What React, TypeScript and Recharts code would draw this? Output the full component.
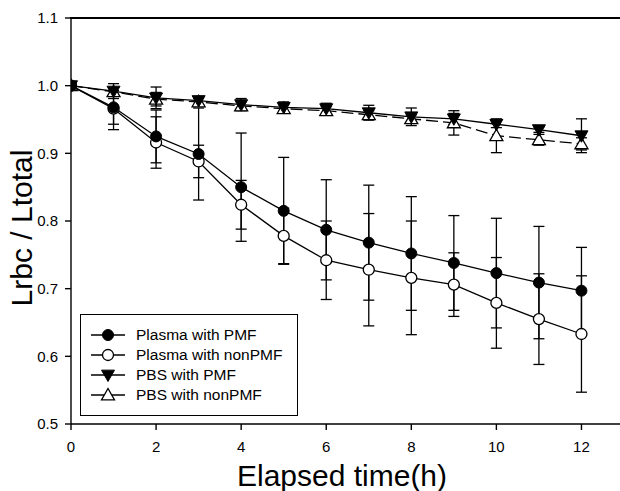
import React from 'react';
import { LineChart, Line, XAxis, YAxis, ErrorBar, Legend, Label } from 'recharts';

// elapsed hours
const hours = [0, 1, 2, 3, 4, 5, 6, 7, 8, 9, 10, 11, 12];

// Lrbc / Ltotal
const plasmaPmf = [1.0, 0.968, 0.925, 0.899, 0.85, 0.815, 0.787, 0.768, 0.752, 0.738, 0.723, 0.709, 0.697];
const plasmaPmfErr = [0, 0.025, 0.039, 0.068, 0.08, 0.079, 0.074, 0.085, 0.084, 0.07, 0.081, 0.083, 0.064];

const plasmaNon = [1.0, 0.966, 0.916, 0.888, 0.824, 0.778, 0.742, 0.728, 0.716, 0.706, 0.679, 0.655, 0.633];
const plasmaNonErr = [0, 0.031, 0.038, 0.024, 0.036, 0.041, 0.058, 0.083, 0.084, 0.047, 0.067, 0.067, 0.086];

const pbsPmf = [1.0, 0.992, 0.982, 0.978, 0.972, 0.968, 0.966, 0.96, 0.954, 0.951, 0.943, 0.935, 0.926];
const pbsPmfErr = [0, 0.011, 0.016, 0.006, 0.009, 0.008, 0.008, 0.011, 0.013, 0.008, 0.005, 0.004, 0.025];

const pbsNon = [1.0, 0.991, 0.98, 0.976, 0.97, 0.966, 0.963, 0.957, 0.951, 0.945, 0.926, 0.92, 0.914];
const pbsNonErr = [0, 0.006, 0.01, 0.005, 0.006, 0.006, 0.006, 0.006, 0.006, 0.018, 0.025, 0.008, 0.009];

const xTicks = [0, 2, 4, 6, 8, 10, 12];
const yTicks = [0.5, 0.6, 0.7, 0.8, 0.9, 1.0, 1.1];

const seriesNames = ['Plasma with PMF', 'Plasma with nonPMF', 'PBS with PMF', 'PBS with nonPMF'];

const data = hours.map((h, i) => ({
  hour: h,
  plasmaPmf: plasmaPmf[i],
  plasmaPmfErr: plasmaPmfErr[i],
  plasmaNon: plasmaNon[i],
  plasmaNonErr: plasmaNonErr[i],
  pbsPmf: pbsPmf[i],
  pbsPmfErr: pbsPmfErr[i],
  pbsNon: pbsNon[i],
  pbsNonErr: pbsNonErr[i],
}));

const FONT = '"Liberation Sans", Arial, sans-serif';
const INK = '#000';

type Kind = 'filledCircle' | 'openCircle' | 'downTri' | 'upTri';

function Marker({ kind, cx, cy }: { kind: Kind; cx: number; cy: number }) {
  if (cx == null || cy == null) return null;
  const r = 5.5;
  const s = 6.5;
  if (kind === 'filledCircle') return <circle cx={cx} cy={cy} r={r} fill={INK} stroke={INK} />;
  if (kind === 'openCircle') return <circle cx={cx} cy={cy} r={r} fill="#fff" stroke={INK} strokeWidth={1.3} />;
  if (kind === 'downTri')
    return (
      <polygon
        points={`${cx - s},${cy - s * 0.75} ${cx + s},${cy - s * 0.75} ${cx},${cy + s}`}
        fill={INK}
        stroke={INK}
        strokeWidth={1}
      />
    );
  return (
    <polygon
      points={`${cx - s},${cy + s * 0.75} ${cx + s},${cy + s * 0.75} ${cx},${cy - s}`}
      fill="#fff"
      stroke={INK}
      strokeWidth={1.3}
    />
  );
}

const dotFor = (kind: Kind) => (p: any) => <Marker key={`${kind}-${p.index}`} kind={kind} cx={p.cx} cy={p.cy} />;

const legendKinds: Kind[] = ['filledCircle', 'openCircle', 'downTri', 'upTri'];

function LegendBox() {
  return (
    <div
      style={{
        width: 218,
        height: 102,
        boxSizing: 'border-box',
        border: '1.3px solid #000',
        background: '#fff',
        paddingTop: 10,
        fontFamily: FONT,
        fontSize: 15.5,
        color: '#000',
      }}
    >
      {seriesNames.map((name, i) => (
        <div key={name} style={{ display: 'flex', alignItems: 'center', height: 20 }}>
          <svg width={55} height={20} style={{ flex: 'none' }}>
            <line x1={10} x2={44} y1={10} y2={10} stroke={INK} strokeWidth={1.3} />
            <Marker kind={legendKinds[i]} cx={27} cy={10} />
          </svg>
          <span style={{ whiteSpace: 'nowrap' }}>{name}</span>
        </div>
      ))}
    </div>
  );
}

export default function App() {
  const tickStyle = { fontSize: 15, fill: INK, fontFamily: FONT };
  return (
    <div style={{ position: 'absolute', left: 0, top: 0, width: 620, height: 491, overflow: 'hidden', background: '#fff' }}>
      <LineChart width={624} height={491} data={data} margin={{ top: 18, right: 0, left: 0, bottom: 0 }}>
        <XAxis
          dataKey="hour"
          type="number"
          domain={[0, 13]}
          ticks={xTicks}
          allowDataOverflow
          height={67}
          tickSize={6}
          tickMargin={11}
          tick={tickStyle}
          stroke={INK}
          strokeWidth={1.4}
        >
          <Label
            content={() => (
              <text x={342} y={486} textAnchor="middle" fontSize={30} fontFamily={FONT} fill={INK}>
                Elapsed time(h)
              </text>
            )}
          />
        </XAxis>
        <YAxis
          type="number"
          domain={[0.5, 1.1]}
          ticks={yTicks}
          allowDataOverflow
          width={71}
          tickSize={6}
          tickMargin={7}
          tick={tickStyle}
          tickFormatter={(v: number) => v.toFixed(1)}
          stroke={INK}
          strokeWidth={1.4}
        >
          <Label
            content={() => (
              <text
                x={32}
                y={228}
                transform="rotate(-90, 32, 228)"
                textAnchor="middle"
                fontSize={30}
                fontFamily={FONT}
                fill={INK}
              >
                Lrbc / Ltotal
              </text>
            )}
          />
        </YAxis>
        <Legend
          verticalAlign="middle"
          layout="horizontal"
          content={() => <LegendBox />}
          wrapperStyle={{ position: 'absolute', left: 80, top: 314, width: 218, height: 102 }}
        />
        <Line
          dataKey="pbsNon"
          name={seriesNames[3]}
          stroke={INK}
          strokeWidth={1.3}
          strokeDasharray="12 5"
          dot={dotFor('upTri')}
          activeDot={false}
          isAnimationActive={false}
        >
          <ErrorBar dataKey="pbsNonErr" direction="y" width={5.5} stroke={INK} strokeWidth={1.3} />
        </Line>
        <Line
          dataKey="pbsPmf"
          name={seriesNames[2]}
          stroke={INK}
          strokeWidth={1.3}
          dot={dotFor('downTri')}
          activeDot={false}
          isAnimationActive={false}
        >
          <ErrorBar dataKey="pbsPmfErr" direction="y" width={5.5} stroke={INK} strokeWidth={1.3} />
        </Line>
        <Line
          dataKey="plasmaNon"
          name={seriesNames[1]}
          stroke={INK}
          strokeWidth={1.3}
          dot={dotFor('openCircle')}
          activeDot={false}
          isAnimationActive={false}
        >
          <ErrorBar dataKey="plasmaNonErr" direction="y" width={5.5} stroke={INK} strokeWidth={1.3} />
        </Line>
        <Line
          dataKey="plasmaPmf"
          name={seriesNames[0]}
          stroke={INK}
          strokeWidth={1.3}
          dot={dotFor('filledCircle')}
          activeDot={false}
          isAnimationActive={false}
        >
          <ErrorBar dataKey="plasmaPmfErr" direction="y" width={5.5} stroke={INK} strokeWidth={1.3} />
        </Line>
      </LineChart>
      {/* top side of the plot frame */}
      <div
        style={{
          position: 'absolute',
          left: 70,
          top: 17,
          width: 560,
          height: 2,
          background: '#000',
          pointerEvents: 'none',
        }}
      />
    </div>
  );
}
